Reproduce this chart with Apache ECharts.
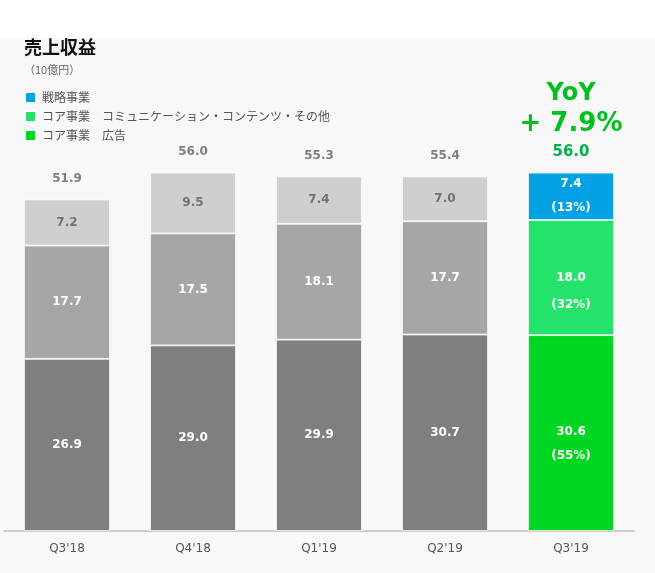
<!DOCTYPE html>
<html><head><meta charset="utf-8">
<script src="https://cdn.jsdelivr.net/npm/echarts@6/dist/echarts.min.js"></script>
<style>html,body{margin:0;padding:0;background:#fff}#c{width:655px;height:573px}</style>
</head><body><div id="c"></div>
<script>
const categories = ["Q3'18", "Q4'18", "Q1'19", "Q2'19", "Q3'19"];
const adValues = [26.9, 29.0, 29.9, 30.7, 30.6];
const commValues = [17.7, 17.5, 18.1, 17.7, 18.0];
const strategyValues = [7.2, 9.5, 7.4, 7.0, 7.4];
const totals = [51.9, 56.0, 55.3, 55.4, 56.0];
const sharesLatest = { strategy: 13, comm: 32, ad: 55 };
const yoyText = '+ 7.9%';
const seriesNames = ['戦略事業', 'コア事業　コミュニケーション・コンテンツ・その他', 'コア事業　広告'];

const num = 'DejaVu Sans, Verdana, sans-serif';
const jp = '"Noto Sans CJK JP", sans-serif';
const last = categories.length - 1;

function mk(values, gray, color, textColor, share, offset, lh) {
  return values.map((v, i) => {
    const isLast = i === last;
    return {
      value: v,
      itemStyle: { color: isLast ? color : gray },
      label: isLast ? {
        color: '#fff',
        lineHeight: lh,
        formatter: v.toFixed(1) + '\n\n(' + share + '%)',
        offset: offset
      } : { color: textColor }
    };
  });
}

const chart = echarts.init(document.getElementById('c'), null, { renderer: 'canvas' });
const baseLabel = { show: true, position: 'inside', fontFamily: num, fontWeight: 'bold', fontSize: 12, lineHeight: 12, formatter: p => p.value.toFixed(1) };
chart.setOption({
  backgroundColor: '#f8f8f8',
  animation: false,
  graphic: [{ type: 'rect', left: 0, top: 0, shape: { width: 655, height: 38 }, style: { fill: '#ffffff' }, silent: true, z: -1 }],
  title: {
    text: '売上収益', subtext: '（10億円）', left: 19, top: 33, itemGap: 8,
    textStyle: { fontFamily: jp, fontSize: 18, fontWeight: 'bold', color: '#111' },
    subtextStyle: { fontFamily: jp, fontSize: 11, color: '#666' }
  },
  legend: {
    orient: 'vertical', left: 19, top: 86, itemWidth: 11, itemHeight: 11, itemGap: 6, icon: 'rect',
    data: seriesNames,
    textStyle: { fontFamily: jp, fontSize: 12, color: '#555', padding: [0, 0, 0, 1] }
  },
  grid: { left: 4, right: 21, top: 147, bottom: 42 },
  xAxis: {
    type: 'category', data: categories,
    axisLine: { lineStyle: { color: '#bdbdbd', width: 1.5 } }, axisTick: { show: false },
    axisLabel: { fontFamily: num, fontSize: 12, color: '#555', margin: 12 }
  },
  yAxis: { type: 'value', min: 0, max: 60, show: false, splitLine: { show: false } },
  series: [
    {
      name: seriesNames[2], type: 'bar', stack: 't', barWidth: 86,
      itemStyle: { color: '#00d722', borderColor: '#ffffff', borderWidth: 0.8 },
      label: baseLabel,
      data: mk(adValues, '#7f7f7f', '#00d722', '#ffffff', sharesLatest.ad, [0, 11], 12)
    },
    {
      name: seriesNames[1], type: 'bar', stack: 't',
      itemStyle: { color: '#24e36b', borderColor: '#ffffff', borderWidth: 0.8 },
      label: baseLabel,
      data: mk(commValues, '#a6a6a6', '#24e36b', '#ffffff', sharesLatest.comm, [0, 14], 13.5)
    },
    {
      name: seriesNames[0], type: 'bar', stack: 't',
      itemStyle: { color: '#00a2e3', borderColor: '#ffffff', borderWidth: 0.8 },
      label: baseLabel,
      data: mk(strategyValues, '#d0cece', '#00a2e3', '#767171', sharesLatest.strategy, [0, 0], 12)
    },
    {
      name: 'total', type: 'bar', stack: 't',
      itemStyle: { color: 'transparent' },
      label: {
        show: true, position: 'top', distance: 15,
        fontFamily: num, fontWeight: 'bold', fontSize: 12, color: '#7f7f7f',
        formatter: p => p.dataIndex === last
          ? '{yoy|YoY}\n{pct|' + yoyText + '}\n{tot|' + totals[p.dataIndex].toFixed(1) + '}'
          : totals[p.dataIndex].toFixed(1),
        rich: {
          yoy: { fontFamily: num, fontWeight: 'bold', fontSize: 24, color: '#00c020', lineHeight: 22, align: 'center' },
          pct: { fontFamily: num, fontWeight: 'bold', fontSize: 26, color: '#00c020', lineHeight: 40, align: 'center' },
          tot: { fontFamily: num, fontWeight: 'bold', fontSize: 15, color: '#00b050', lineHeight: 16, align: 'center' }
        }
      },
      data: categories.map((c, i) => i === last ? { value: 0, label: { distance: 12 } } : 0)
    }
  ]
});
</script></body></html>
